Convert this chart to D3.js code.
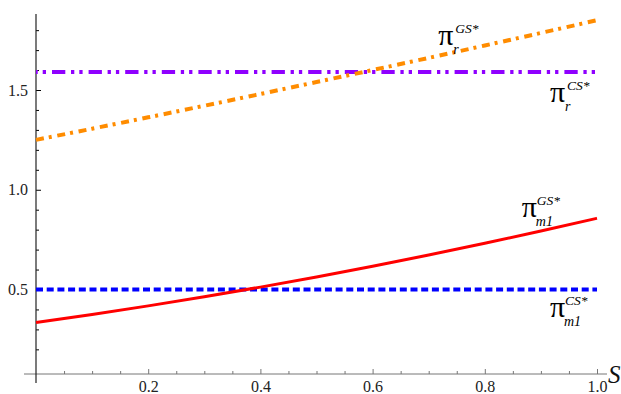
<!DOCTYPE html>
<html>
<head>
<meta charset="utf-8">
<script src="https://cdn.jsdelivr.net/npm/d3@7"></script>
<style>
  body { margin: 0; background: #fff; }
  svg text { font-family: "Times New Roman", Times, Tinos, "Liberation Serif", "Noto Serif", "DejaVu Serif", serif; }
</style>
</head>
<body>
<div id="container"></div>
<script>
let w = 621;
let h = 394;

// data
let sValues = [0, 0.1, 0.2, 0.3, 0.4, 0.5, 0.6, 0.7, 0.8, 0.9, 1.0];
let piRGS = [1.25, 1.306, 1.363, 1.421, 1.48, 1.54, 1.6, 1.661, 1.723, 1.786, 1.85];
let piRCS = [1.59, 1.59, 1.59, 1.59, 1.59, 1.59, 1.59, 1.59, 1.59, 1.59, 1.59];
let piM1GS = [0.335, 0.375, 0.418, 0.464, 0.512, 0.563, 0.617, 0.673, 0.732, 0.793, 0.857];
let piM1CS = [0.5, 0.5, 0.5, 0.5, 0.5, 0.5, 0.5, 0.5, 0.5, 0.5, 0.5];

let xMajorTicks = [0.2, 0.4, 0.6, 0.8, 1.0];
let xMinorTicks = [0.05, 0.1, 0.15, 0.25, 0.3, 0.35, 0.45, 0.5, 0.55, 0.65, 0.7, 0.75, 0.85, 0.9, 0.95];
let yMajorTicks = [0.5, 1.0, 1.5];
let yMinorTicks = [0.2, 0.3, 0.4, 0.6, 0.7, 0.8, 0.9, 1.1, 1.2, 1.3, 1.4, 1.6, 1.7, 1.8];

// labels: x, y (baseline of the pi), subscript, superscript
let labels = [
  {x: 0.717, y: 1.726, sub: "r", sup: "GS*"},
  {x: 0.916, y: 1.44, sub: "r", sup: "CS*"},
  {x: 0.866, y: 0.863, sub: "m1", sup: "GS*"},
  {x: 0.916, y: 0.363, sub: "m1", sup: "CS*"}
];

let viz = d3.select("#container")
  .append("svg")
    .attr("width", w)
    .attr("height", h)
;

let xScale = d3.scaleLinear().domain([0, 1]).range([36, 597]);
let yScale = d3.scaleLinear().domain([0.5, 1.5]).range([289.5, 90]);

let axisY = 374;   // where the s axis crosses
let axisX = xScale(0);

// x axis
let xAxisGroup = viz.append("g").attr("class", "xaxis")
  .attr("transform", "translate(0," + axisY + ")");
xAxisGroup.call(d3.axisBottom(xScale).tickValues(xMajorTicks).tickFormat(d3.format(".1f"))
  .tickSizeInner(-5).tickSizeOuter(0).tickPadding(7));
xAxisGroup.select(".domain").remove();
let xMinorGroup = viz.append("g").attr("class", "xminor")
  .attr("transform", "translate(0," + axisY + ")");
xMinorGroup.call(d3.axisBottom(xScale).tickValues(xMinorTicks).tickFormat("").tickSizeInner(-3).tickSizeOuter(0));
xMinorGroup.select(".domain").remove();
viz.selectAll(".xaxis line, .xminor line").attr("stroke", "#777");
viz.append("line")
  .attr("x1", 24).attr("x2", 607)
  .attr("y1", axisY).attr("y2", axisY)
  .attr("stroke", "#777").attr("stroke-width", 1);

// y axis
let yAxisGroup = viz.append("g").attr("class", "yaxis")
  .attr("transform", "translate(" + axisX + ",0)");
yAxisGroup.call(d3.axisLeft(yScale).tickValues(yMajorTicks).tickFormat(d3.format(".1f"))
  .tickSizeInner(-5).tickSizeOuter(0).tickPadding(8));
yAxisGroup.select(".domain").remove();
let yMinorGroup = viz.append("g")
  .attr("transform", "translate(" + axisX + ",0)");
yMinorGroup.call(d3.axisLeft(yScale).tickValues(yMinorTicks).tickFormat("").tickSizeInner(-3).tickSizeOuter(0));
yMinorGroup.select(".domain").remove();
viz.append("line")
  .attr("x1", axisX).attr("x2", axisX)
  .attr("y1", 14).attr("y2", 383)
  .attr("stroke", "#222").attr("stroke-width", 1.2);

viz.selectAll(".tick text")
  .attr("font-size", 16)
  .attr("fill", "#222");

// axis name
viz.append("text")
  .text("S")
  .attr("x", 608)
  .attr("y", 383)
  .attr("font-size", 25)
  .attr("font-style", "italic")
  .attr("fill", "#111");

// curves
let series = [
  {values: piRCS, color: "#8f00ff", width: 4, dash: "13.3,5.7,3.3,5,3.3,6", offset: 20.6},
  {values: piRGS, color: "#ff8c00", width: 4, dash: "8,5,3,5.7", offset: 0},
  {values: piM1CS, color: "#0000ff", width: 4, dash: "7,3.7", offset: 0},
  {values: piM1GS, color: "#ff0000", width: 3, dash: null, offset: 0}
];

let lineMaker = d3.line()
  .x(function(d, i){ return xScale(sValues[i]); })
  .y(function(d, i){ return yScale(d); })
  .curve(d3.curveMonotoneX);

let vizGroup = viz.append("g").attr("class", "vizGroup");
vizGroup.selectAll(".curve").data(series).enter()
  .append("path")
    .attr("class", "curve")
    .attr("d", function(d){ return lineMaker(d.values); })
    .attr("fill", "none")
    .attr("stroke", function(d){ return d.color; })
    .attr("stroke-width", function(d){ return d.width; })
    .attr("stroke-dasharray", function(d){ return d.dash; })
    .attr("stroke-dashoffset", function(d){ return d.offset; })
;

// pi labels
let labelGroups = viz.selectAll(".lab").data(labels).enter()
  .append("g")
    .attr("class", "lab")
    .attr("transform", function(d){ return "translate(" + xScale(d.x) + "," + yScale(d.y) + ")"; });

labelGroups.append("text")
  .text("\u03c0")
  .attr("font-size", 30)
  .attr("fill", "#000");
labelGroups.append("text")
  .text(function(d){ return d.sup; })
  .attr("x", function(d){ return d.sub == "r" ? 17 : 15; })
  .attr("y", -12)
  .attr("font-size", 13.5)
  .attr("font-style", "italic")
  .attr("fill", "#000");
labelGroups.append("text")
  .text(function(d){ return d.sub; })
  .attr("x", function(d){ return d.sub == "r" ? 15 : 14; })
  .attr("y", 9)
  .attr("font-size", 14)
  .attr("font-style", "italic")
  .attr("fill", "#000");
</script>
</body>
</html>
